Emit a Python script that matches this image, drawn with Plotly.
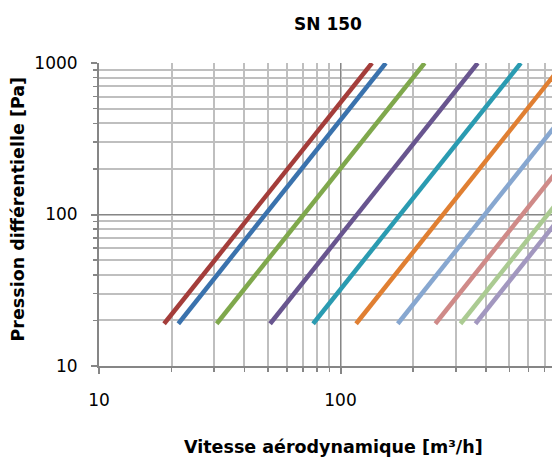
import plotly.graph_objects as go
import math

# Airflow (m3/h) at start (19 Pa) and end (1000 Pa) of each curve
series_names = ["S1", "S2", "S3", "S4", "S5", "S6", "S7", "S8", "S9", "S10"]
flow_start = [18.6, 21.3, 30.7, 51.1, 77, 116, 172.6, 247, 314, 362]
flow_end = [135, 154, 223, 370, 558, 840, 1250, 1790, 2280, 2625]
press_start = [19, 19, 19, 19, 19, 19, 19, 19, 19, 19]
press_end = [1000, 1000, 1000, 1000, 1000, 1000, 1000, 1000, 1000, 1000]
colors = ["#A43D3A", "#3A72AD", "#7FA84C", "#68558F", "#2A9BB1",
          "#E07F32", "#87A7D0", "#CF8A88", "#ABCB92", "#A297BF"]

x_tickvals = [10, 100]
y_tickvals = [10, 100, 1000]

fig = go.Figure()
for i, name in enumerate(series_names):
    fig.add_trace(go.Scatter(
        x=[flow_start[i], flow_end[i]],
        y=[press_start[i], press_end[i]],
        mode="lines", name=name,
        line=dict(color=colors[i], width=4.5),
        showlegend=False, hoverinfo="skip"))

font_family = "DejaVu Sans, sans-serif"
axis_common = dict(
    type="log",
    showline=True, linecolor="#868686", linewidth=2,
    showgrid=True, gridcolor="#868686", gridwidth=1.5,
    ticks="outside", ticklen=6, tickwidth=2, tickcolor="#868686",
    tickfont=dict(family=font_family, size=17, color="#000000"),
    zeroline=False,
    minor=dict(dtick="D1", showgrid=True, gridcolor="#BFBFBF", gridwidth=2,
               ticks="outside", ticklen=4, tickwidth=1.5, tickcolor="#868686"),
)

fig.update_xaxes(**axis_common, range=[1, math.log10(751)],
                 tickvals=x_tickvals, ticktext=[str(v) for v in x_tickvals],
                 ticklabelstandoff=12)
fig.update_yaxes(**axis_common, range=[1, 3],
                 tickvals=y_tickvals, ticktext=[str(v) for v in y_tickvals],
                 ticklabelstandoff=10)

PW, PH = 453.0, 303.0
fig.update_layout(
    width=552, height=460,
    margin=dict(l=99, r=0, t=63, b=94, autoexpand=False),
    paper_bgcolor="white", plot_bgcolor="white",
    font=dict(family=font_family),
    annotations=[
        dict(text="<b>SN 150</b>", xref="paper", yref="paper",
             x=(328 - 99) / PW, y=1 + (63.3 - 24.3) / PH, showarrow=False,
             font=dict(family=font_family, size=17, color="#000"),
             xanchor="center", yanchor="middle"),
        dict(text="<b>Vitesse aérodynamique [m³/h]</b>", xref="paper", yref="paper",
             x=(333.8 - 99) / PW, y=-(446.5 - 366) / PH, showarrow=False,
             font=dict(family=font_family, size=17.5, color="#000"),
             xanchor="center", yanchor="middle"),
        dict(text="<b>Pression différentielle [Pa]</b>", xref="paper", yref="paper",
             x=-(99 - 17.5) / PW, y=(366 - 209) / PH, showarrow=False, textangle=-90,
             font=dict(family=font_family, size=17.5, color="#000"),
             xanchor="center", yanchor="middle"),
    ],
)

fig.write_html(
    "out.html",
    config={"displayModeBar": False, "staticPlot": True},
    post_script="document.body.style.margin='0';document.body.style.overflow='hidden';",
)
